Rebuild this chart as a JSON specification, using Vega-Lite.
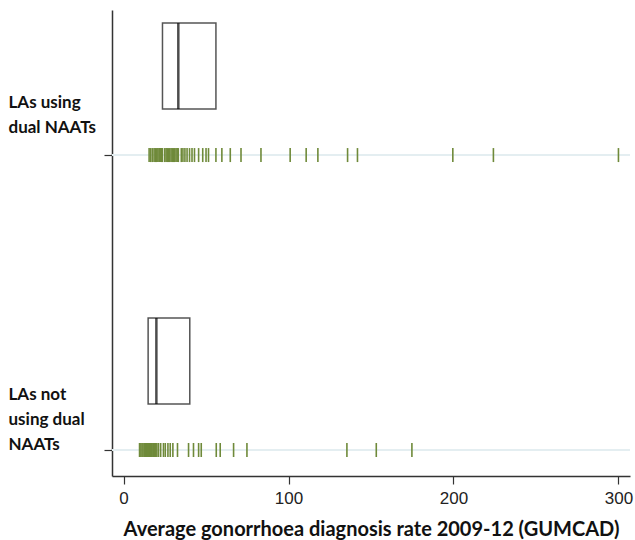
{
  "$schema": "https://vega.github.io/schema/vega-lite/v6.json",
  "autosize": "none",
  "width": 518,
  "height": 466,
  "padding": {"left": 112, "top": 10, "right": 5, "bottom": 64},
  "background": "white",
  "config": {"view": {"stroke": null}},
  "datasets": {
    "rates": [
      {"group": "LAs using dual NAATs", "rate": 15.5},
      {"group": "LAs using dual NAATs", "rate": 16.5},
      {"group": "LAs using dual NAATs", "rate": 17.5},
      {"group": "LAs using dual NAATs", "rate": 18.5},
      {"group": "LAs using dual NAATs", "rate": 19.2},
      {"group": "LAs using dual NAATs", "rate": 20},
      {"group": "LAs using dual NAATs", "rate": 20.8},
      {"group": "LAs using dual NAATs", "rate": 21.5},
      {"group": "LAs using dual NAATs", "rate": 22},
      {"group": "LAs using dual NAATs", "rate": 22.6},
      {"group": "LAs using dual NAATs", "rate": 23},
      {"group": "LAs using dual NAATs", "rate": 23.3},
      {"group": "LAs using dual NAATs", "rate": 23.6},
      {"group": "LAs using dual NAATs", "rate": 25},
      {"group": "LAs using dual NAATs", "rate": 25.8},
      {"group": "LAs using dual NAATs", "rate": 26.5},
      {"group": "LAs using dual NAATs", "rate": 27.3},
      {"group": "LAs using dual NAATs", "rate": 28},
      {"group": "LAs using dual NAATs", "rate": 28.8},
      {"group": "LAs using dual NAATs", "rate": 29.5},
      {"group": "LAs using dual NAATs", "rate": 30.3},
      {"group": "LAs using dual NAATs", "rate": 31},
      {"group": "LAs using dual NAATs", "rate": 31.8},
      {"group": "LAs using dual NAATs", "rate": 32.5},
      {"group": "LAs using dual NAATs", "rate": 33.2},
      {"group": "LAs using dual NAATs", "rate": 35},
      {"group": "LAs using dual NAATs", "rate": 36},
      {"group": "LAs using dual NAATs", "rate": 37.2},
      {"group": "LAs using dual NAATs", "rate": 38.5},
      {"group": "LAs using dual NAATs", "rate": 40},
      {"group": "LAs using dual NAATs", "rate": 41.5},
      {"group": "LAs using dual NAATs", "rate": 43},
      {"group": "LAs using dual NAATs", "rate": 45.5},
      {"group": "LAs using dual NAATs", "rate": 48},
      {"group": "LAs using dual NAATs", "rate": 50},
      {"group": "LAs using dual NAATs", "rate": 51.5},
      {"group": "LAs using dual NAATs", "rate": 56},
      {"group": "LAs using dual NAATs", "rate": 59.6},
      {"group": "LAs using dual NAATs", "rate": 64.7},
      {"group": "LAs using dual NAATs", "rate": 71.2},
      {"group": "LAs using dual NAATs", "rate": 83.3},
      {"group": "LAs using dual NAATs", "rate": 101},
      {"group": "LAs using dual NAATs", "rate": 110.7},
      {"group": "LAs using dual NAATs", "rate": 117.8},
      {"group": "LAs using dual NAATs", "rate": 135.8},
      {"group": "LAs using dual NAATs", "rate": 141.8},
      {"group": "LAs using dual NAATs", "rate": 199.6},
      {"group": "LAs using dual NAATs", "rate": 224.2},
      {"group": "LAs using dual NAATs", "rate": 300},
      {"group": "LAs not using dual NAATs", "rate": 9.7},
      {"group": "LAs not using dual NAATs", "rate": 10.5},
      {"group": "LAs not using dual NAATs", "rate": 11.2},
      {"group": "LAs not using dual NAATs", "rate": 11.8},
      {"group": "LAs not using dual NAATs", "rate": 12.5},
      {"group": "LAs not using dual NAATs", "rate": 13},
      {"group": "LAs not using dual NAATs", "rate": 13.5},
      {"group": "LAs not using dual NAATs", "rate": 14},
      {"group": "LAs not using dual NAATs", "rate": 14.2},
      {"group": "LAs not using dual NAATs", "rate": 14.6},
      {"group": "LAs not using dual NAATs", "rate": 15},
      {"group": "LAs not using dual NAATs", "rate": 15.6},
      {"group": "LAs not using dual NAATs", "rate": 16.2},
      {"group": "LAs not using dual NAATs", "rate": 16.8},
      {"group": "LAs not using dual NAATs", "rate": 17.2},
      {"group": "LAs not using dual NAATs", "rate": 17.8},
      {"group": "LAs not using dual NAATs", "rate": 18.3},
      {"group": "LAs not using dual NAATs", "rate": 18.8},
      {"group": "LAs not using dual NAATs", "rate": 19.2},
      {"group": "LAs not using dual NAATs", "rate": 19.6},
      {"group": "LAs not using dual NAATs", "rate": 20.2},
      {"group": "LAs not using dual NAATs", "rate": 21.2},
      {"group": "LAs not using dual NAATs", "rate": 22.5},
      {"group": "LAs not using dual NAATs", "rate": 24.2},
      {"group": "LAs not using dual NAATs", "rate": 25.3},
      {"group": "LAs not using dual NAATs", "rate": 26.9},
      {"group": "LAs not using dual NAATs", "rate": 28.3},
      {"group": "LAs not using dual NAATs", "rate": 29.9},
      {"group": "LAs not using dual NAATs", "rate": 32.7},
      {"group": "LAs not using dual NAATs", "rate": 39.4},
      {"group": "LAs not using dual NAATs", "rate": 42.4},
      {"group": "LAs not using dual NAATs", "rate": 45.5},
      {"group": "LAs not using dual NAATs", "rate": 47.1},
      {"group": "LAs not using dual NAATs", "rate": 56.2},
      {"group": "LAs not using dual NAATs", "rate": 58.6},
      {"group": "LAs not using dual NAATs", "rate": 66.7},
      {"group": "LAs not using dual NAATs", "rate": 74.8},
      {"group": "LAs not using dual NAATs", "rate": 135.4},
      {"group": "LAs not using dual NAATs", "rate": 153.2},
      {"group": "LAs not using dual NAATs", "rate": 174.8}
    ],
    "groups": [
      {"group": "LAs using dual NAATs"},
      {"group": "LAs not using dual NAATs"}
    ]
  },
  "encoding": {
    "y": {
      "field": "group",
      "type": "nominal",
      "scale": {
        "type": "point",
        "domain": ["LAs using dual NAATs", "LAs not using dual NAATs"],
        "padding": 0.29,
        "align": 0.848
      },
      "axis": {
        "title": null,
        "domainColor": "#333333",
        "domainWidth": 1.5,
        "tickColor": "#333333",
        "tickWidth": 1.2,
        "tickSize": 8,
        "labelAlign": "left",
        "labelBaseline": "bottom",
        "labelPadding": 96,
        "labelFont": "Lato",
        "labelFontWeight": "bold",
        "labelFontSize": 17,
        "labelColor": "#111111",
        "labelLineHeight": 25,
        "labelLimit": 0,
        "labelOffset": {"condition": {"test": "datum.value === 'LAs using dual NAATs'", "value": -44}, "value": -46},
        "labelExpr": "datum.value === 'LAs using dual NAATs' ? ['LAs using', 'dual NAATs'] : ['LAs not', 'using dual', 'NAATs']"
      }
    }
  },
  "layer": [
    {
      "data": {"name": "groups"},
      "mark": {"type": "rule", "color": "#e4eef1", "strokeWidth": 2},
      "encoding": {}
    },
    {
      "data": {"name": "rates"},
      "mark": {"type": "tick", "orient": "vertical", "color": "#6f8a3a", "size": 14, "thickness": 1.6, "opacity": 1},
      "encoding": {
        "x": {
          "field": "rate",
          "type": "quantitative",
          "scale": {"domain": [-7, 307], "nice": false, "zero": false},
          "axis": {
            "title": "Average gonorrhoea diagnosis rate 2009-12 (GUMCAD)",
            "values": [0, 100, 200, 300],
            "grid": false,
            "domainColor": "#333333",
            "domainWidth": 1.5,
            "tickColor": "#333333",
            "tickWidth": 1.2,
            "tickSize": 8,
            "labelPadding": 6,
            "labelFont": "Liberation Sans",
            "labelFontSize": 17,
            "labelColor": "#222222",
            "titleFont": "Lato",
            "titleFontWeight": "bold",
            "titleFontSize": 20,
            "titleColor": "#111111",
            "titlePadding": 13
          }
        }
      }
    },
    {
      "data": {"name": "rates"},
      "transform": [
        {"aggregate": [
          {"op": "q1", "field": "rate", "as": "q1"},
          {"op": "median", "field": "rate", "as": "med"},
          {"op": "q3", "field": "rate", "as": "q3"}
        ], "groupby": ["group"]}
      ],
      "layer": [
        {
          "mark": {"type": "bar", "fill": "white", "fillOpacity": 0, "stroke": "#555555", "strokeWidth": 1.5, "size": 86, "yOffset": -89},
          "encoding": {
            "x": {"field": "q1", "type": "quantitative"},
            "x2": {"field": "q3"}
          }
        },
        {
          "mark": {"type": "tick", "orient": "vertical", "color": "#000000", "size": 86, "thickness": 2.5, "yOffset": -89},
          "encoding": {
            "x": {"field": "med", "type": "quantitative"}
          }
        }
      ]
    }
  ]
}
